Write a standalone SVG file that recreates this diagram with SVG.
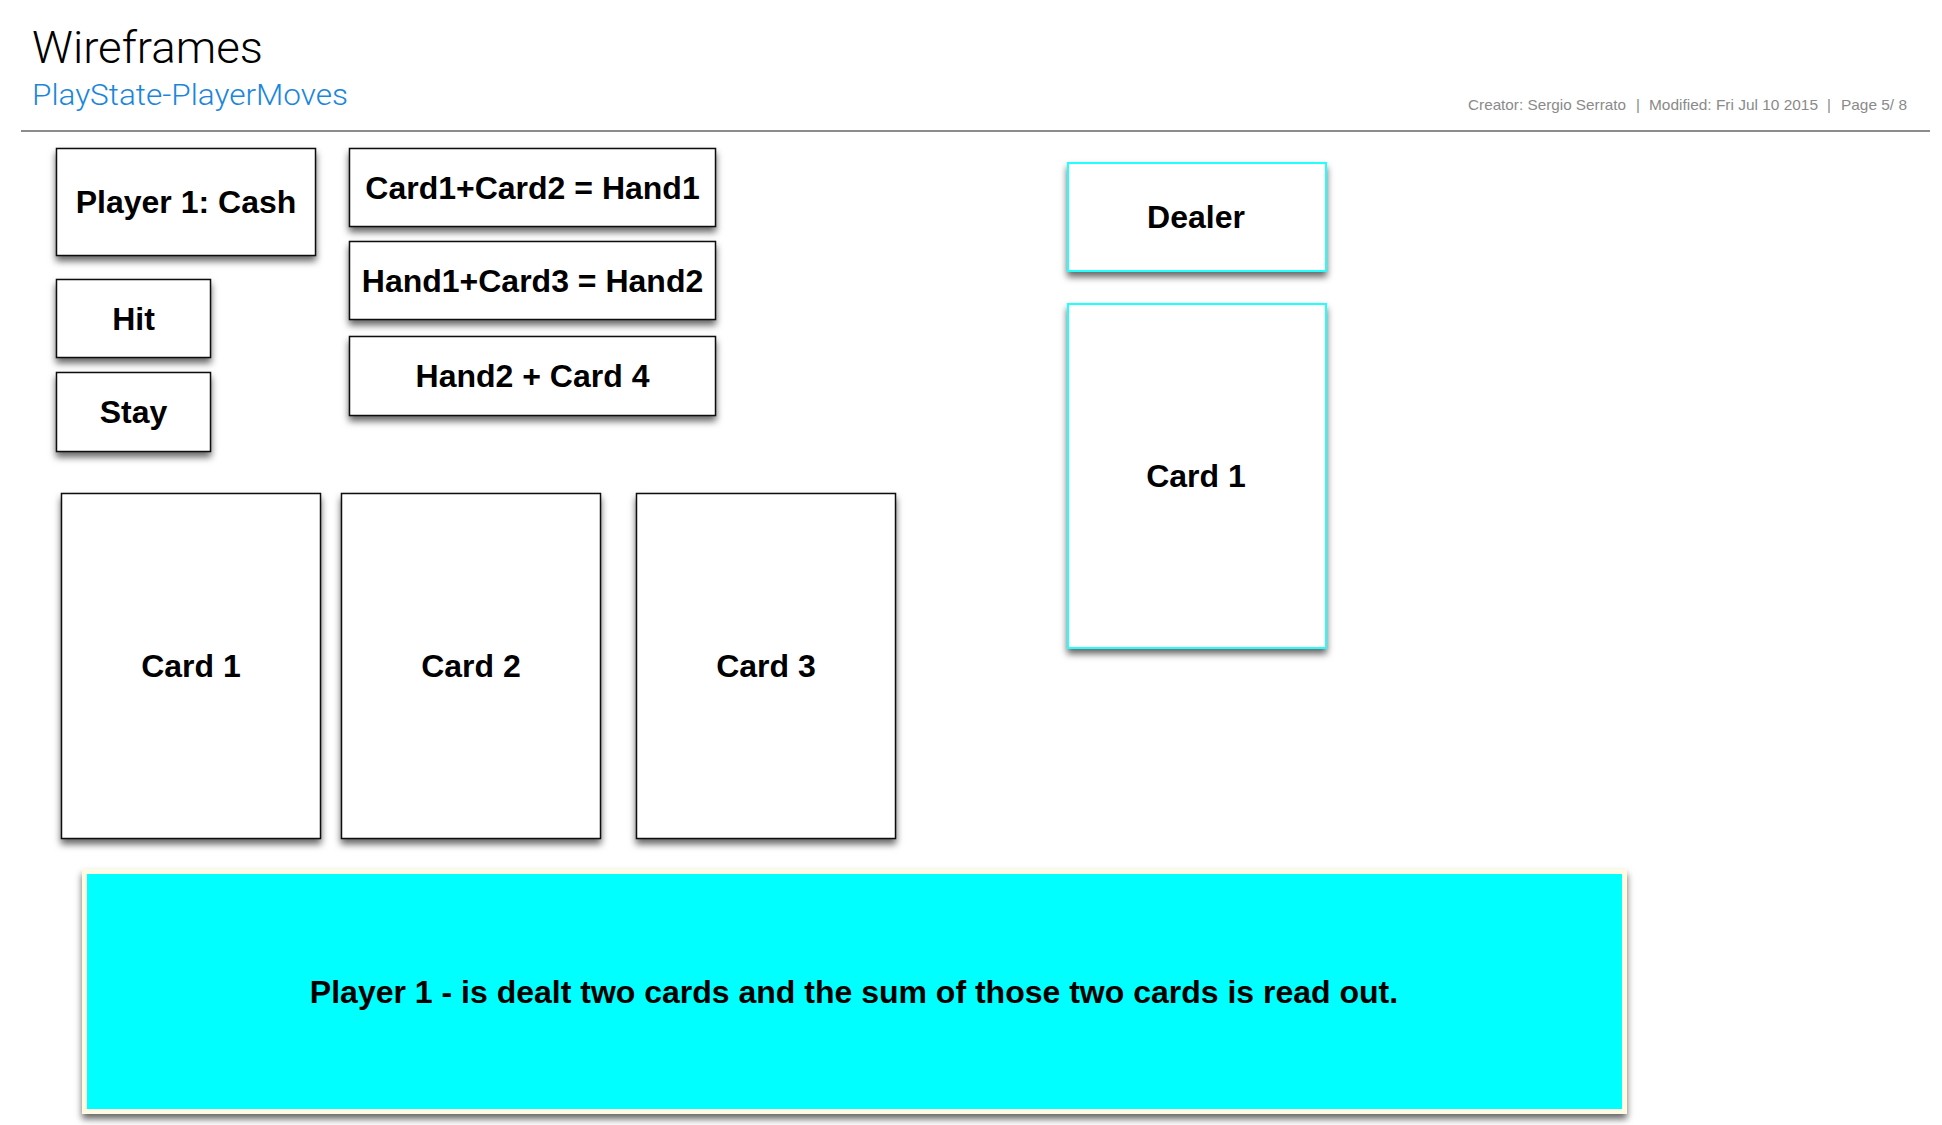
<svg xmlns="http://www.w3.org/2000/svg" width="1942" height="1125" viewBox="0 0 1942 1125">
  <defs>
    <filter id="shadow" x="-10%" y="-10%" width="120%" height="130%">
      <feDropShadow dx="0" dy="5" stdDeviation="3.5" flood-color="#000" flood-opacity="0.6"/>
    </filter>
  </defs>
  <style>
    .box { fill: #ffffff; stroke: #111111; stroke-width: 1.5; filter: url(#shadow); }
    .cbox { fill: #ffffff; stroke: #22ffff; stroke-width: 2; filter: url(#shadow); }
    .banner { fill: #00ffff; stroke: #fffbe2; stroke-width: 5; filter: url(#shadow); }
    .lbl { font-family: "Liberation Sans", Arial, Helvetica, sans-serif; font-weight: bold; font-size: 32px; fill: #000; text-anchor: middle; }
    .foot { font-family: "Liberation Sans", Arial, sans-serif; font-size: 15px; fill: #8a8a8a; }
  </style>
  <rect width="1942" height="1125" fill="#ffffff"/>

  <g id="header">
    <text x="32" y="63" font-family="Roboto, 'Liberation Sans', sans-serif" font-weight="300" font-size="44" fill="#000" textLength="231" lengthAdjust="spacingAndGlyphs">Wireframes</text>
    <text x="32" y="105" font-family="Roboto, 'Liberation Sans', sans-serif" font-weight="300" font-size="29" fill="#1a86dc" textLength="316" lengthAdjust="spacingAndGlyphs">PlayState-PlayerMoves</text>
    <text class="foot" x="1468" y="110" textLength="158" lengthAdjust="spacingAndGlyphs">Creator: Sergio Serrato</text>
    <text class="foot" x="1636" y="110">|</text>
    <text class="foot" x="1649" y="110" textLength="169" lengthAdjust="spacingAndGlyphs">Modified: Fri Jul 10 2015</text>
    <text class="foot" x="1827" y="110">|</text>
    <text class="foot" x="1841" y="110" textLength="66" lengthAdjust="spacingAndGlyphs">Page 5/ 8</text>
    <line x1="21" y1="131" x2="1930" y2="131" stroke="#8c8c8c" stroke-width="2"/>
  </g>

  <g id="player-cash">
    <rect class="box" x="56.5" y="148.5" width="259" height="107"/>
    <text class="lbl" x="186" y="213">Player 1: Cash</text>
  </g>
  <g id="hit">
    <rect class="box" x="56.5" y="279.5" width="154" height="78"/>
    <text class="lbl" x="133.5" y="330">Hit</text>
  </g>
  <g id="stay">
    <rect class="box" x="56.5" y="372.5" width="154" height="79"/>
    <text class="lbl" x="133.5" y="423">Stay</text>
  </g>
  <g id="hand1">
    <rect class="box" x="349.5" y="148.5" width="366" height="78"/>
    <text class="lbl" x="532.5" y="199">Card1+Card2 = Hand1</text>
  </g>
  <g id="hand2">
    <rect class="box" x="349.5" y="241.5" width="366" height="78"/>
    <text class="lbl" x="532.5" y="292">Hand1+Card3 = Hand2</text>
  </g>
  <g id="hand2-card4">
    <rect class="box" x="349.5" y="336.5" width="366" height="79"/>
    <text class="lbl" x="532.5" y="387">Hand2 + Card 4</text>
  </g>

  <g id="card1">
    <rect class="box" x="61.5" y="493.5" width="259" height="345"/>
    <text class="lbl" x="191" y="677">Card 1</text>
  </g>
  <g id="card2">
    <rect class="box" x="341.5" y="493.5" width="259" height="345"/>
    <text class="lbl" x="471" y="677">Card 2</text>
  </g>
  <g id="card3">
    <rect class="box" x="636.5" y="493.5" width="259" height="345"/>
    <text class="lbl" x="766" y="677">Card 3</text>
  </g>

  <g id="dealer">
    <rect class="cbox" x="1068" y="163" width="258" height="108"/>
    <text class="lbl" x="1196" y="228">Dealer</text>
  </g>
  <g id="dealer-card1">
    <rect class="cbox" x="1068" y="304" width="258" height="344"/>
    <text class="lbl" x="1196" y="487">Card 1</text>
  </g>

  <g id="banner">
    <rect class="banner" x="84.5" y="871.5" width="1540" height="240"/>
    <text class="lbl" x="854" y="1003">Player 1 - is dealt two cards and the sum of those two cards is read out.</text>
  </g>

  <g id="connectors"/>
</svg>
